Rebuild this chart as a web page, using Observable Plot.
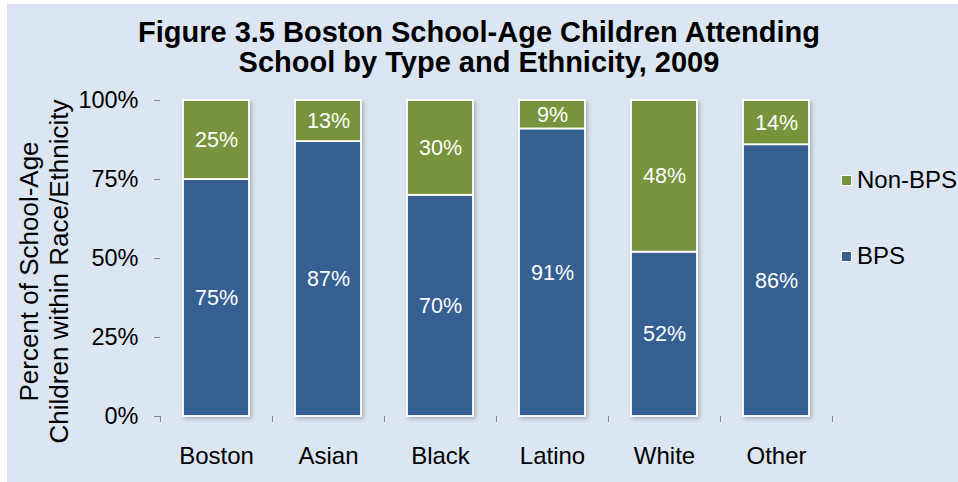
<!DOCTYPE html>
<html><head><meta charset="utf-8">
<script src="https://cdn.jsdelivr.net/npm/d3@7"></script>
<script src="https://cdn.jsdelivr.net/npm/@observablehq/plot@0.6"></script>
<style>
body{margin:0;background:#fff;}
#wrap{position:relative;width:958px;height:482px;overflow:hidden;font-family:"Liberation Sans",Arial,sans-serif;}
#bg{position:absolute;left:7px;top:4px;right:0;bottom:0;background:#DCE6F2;}
#chart{position:absolute;left:0;top:0;}
#title{position:absolute;left:0;width:958px;top:17px;text-align:center;font-weight:bold;font-size:29px;line-height:30px;color:#000;}
.leg{position:absolute;left:841px;font-size:24px;display:flex;align-items:center;color:#000;line-height:26px;white-space:nowrap;}
.sw{width:9px;height:9px;border:1.5px solid #fff;margin-right:5px;}
</style></head><body>
<div id="wrap"><div id="bg"></div><div id="chart"></div>
<div id="title">Figure 3.5 Boston School-Age Children Attending<br>School by Type and Ethnicity, 2009</div>
<div id="legend"></div>
</div>
<script>
const categories = ["Boston","Asian","Black","Latino","White","Other"];
const bpsValues = [75,87,70,91,52,86];
const nonBpsValues = [25,13,30,9,48,14];
const series = ["BPS","Non-BPS"];
const seriesColors = ["#376092","#77933C"];
const yTicks = [0,25,50,75,100];
const yLabel = "Percent of School-Age\nChildren within Race/Ethnicity";

const data = [];
categories.forEach((c,i)=>{
  data.push({cat:c,type:"BPS",v:bpsValues[i]});
  data.push({cat:c,type:"Non-BPS",v:nonBpsValues[i]});
});

const axisColor = "#868686";
const chart = Plot.plot({
  width:958,height:482,marginLeft:160,marginRight:126,marginTop:100,marginBottom:66,
  style:{background:"transparent",fontFamily:"'Liberation Sans', Arial, sans-serif",fontSize:"22px",color:"#000",overflow:"visible"},
  x:{domain:categories,paddingInner:0.41,paddingOuter:0.205},
  y:{domain:[0,100]},
  color:{domain:series,range:seriesColors},
  marks:[
    Plot.barY(data,{x:"cat",y:"v",fill:"type",stroke:"#fff",strokeWidth:1.8}),
    Plot.text(data,Plot.stackY({x:"cat",y:"v",text:d=>d.v+"%",fill:"#fff",fontSize:21.5})),
    Plot.axisY({ticks:yTicks,tickFormat:d=>d+"%",tickSize:6,tickPadding:16,line:true,stroke:axisColor,fill:"#000",fontSize:23.5,label:null}),
    Plot.axisX({tickSize:0,tickPadding:30,line:true,stroke:axisColor,fill:"#000",fontSize:24,label:null}),
    Plot.ruleX(categories,{x:d=>d,dx:-56,insetTop:316,insetBottom:-6,stroke:axisColor}),
    Plot.ruleX(categories.slice(-1),{x:d=>d,dx:56,insetTop:316,insetBottom:-6,stroke:axisColor}),
    Plot.text([yLabel],{frameAnchor:"left",textAnchor:"middle",dx:-117,dy:13,rotate:-90,fontSize:26,lineHeight:1.15,fill:"#000"})
  ]
});
const barG = chart.querySelector('g[aria-label="bar"]');
if (barG) barG.style.filter = "drop-shadow(2px 2px 2px rgba(0,0,0,0.25))";
document.getElementById("chart").append(chart);

const legend = document.getElementById("legend");
const legendOrder = ["Non-BPS","BPS"];
const legendTops = [167,243];
legendOrder.forEach((s,i)=>{
  const d = document.createElement("div");
  d.className = "leg";
  d.style.top = legendTops[i]+"px";
  const sw = document.createElement("span");
  sw.className = "sw";
  sw.style.background = seriesColors[series.indexOf(s)];
  d.append(sw, document.createTextNode(s));
  legend.append(d);
});
</script>
</body></html>
